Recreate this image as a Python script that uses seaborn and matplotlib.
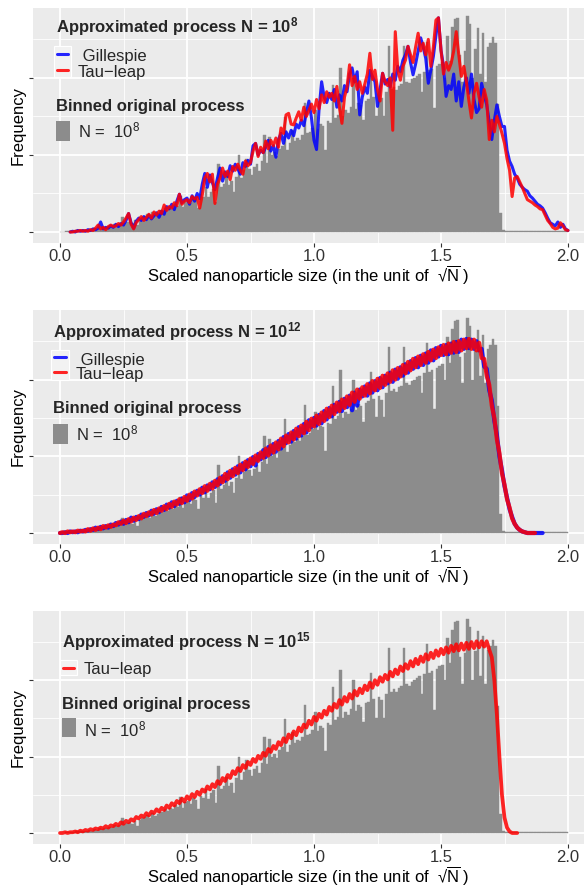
### three stacked size-distribution panels, ggplot look
import numpy as np
import pandas as pd
import matplotlib
matplotlib.use("Agg")
import matplotlib.pyplot as plt
import seaborn as sns
from matplotlib.patches import Rectangle
from matplotlib.lines import Line2D
from matplotlib.ticker import MultipleLocator, FixedLocator, FormatStrFormatter

# binned original process, N = 10^8, bins of width 0.01 starting at 0.00
orig_counts = [
    0.00, 0.00, 0.01, 0.01, 0.01, 0.01, 0.02, 0.02, 0.02, 0.03,
    0.03, 0.04, 0.03, 0.05, 0.04, 0.06, 0.05, 0.07, 0.06, 0.08,
    0.08, 0.10, 0.09, 0.11, 0.19, 0.12, 0.13, 0.15, 0.12, 0.16,
    0.09, 0.17, 0.19, 0.21, 0.23, 0.20, 0.26, 0.22, 0.25, 0.28,
    0.27, 0.31, 0.29, 0.33, 0.31, 0.36, 0.34, 0.47, 0.33, 0.40,
    0.42, 0.38, 0.46, 0.43, 0.31, 0.49, 0.46, 0.58, 0.45, 0.52,
    0.56, 0.39, 0.88, 0.58, 0.62, 0.73, 0.61, 0.66, 0.52, 0.72,
    1.00, 0.70, 0.80, 0.95, 0.82, 0.74, 0.84, 0.88, 0.79, 0.92,
    1.26, 0.90, 1.23, 1.00, 1.04, 0.98, 1.08, 1.12, 1.49, 1.06,
    1.15, 1.32, 1.18, 1.22, 1.20, 1.26, 1.67, 1.28, 1.30, 1.35,
    1.58, 1.34, 1.40, 1.38, 1.07, 1.44, 1.42, 1.91, 1.48, 1.52,
    2.13, 1.50, 1.58, 1.55, 1.62, 2.00, 1.60, 1.68, 1.65, 1.45,
    1.70, 1.72, 2.10, 1.75, 1.51, 1.78, 1.74, 1.51, 1.82, 2.42,
    1.85, 1.88, 1.84, 1.90, 1.92, 2.42, 1.95, 1.93, 1.98, 2.00,
    2.03, 2.05, 1.82, 2.08, 2.47, 2.10, 2.12, 1.61, 2.15, 2.18,
    2.20, 2.00, 2.55, 2.22, 2.66, 2.76, 2.78, 2.30, 1.95, 2.35,
    2.80, 2.70, 2.00, 2.38, 2.65, 2.05, 2.58, 1.95, 2.40, 2.45,
    2.53, 2.45, 1.66, 0.25, 0.02, 0.01,
    0.012, 0.012, 0.012, 0.012, 0.012, 0.012, 0.012, 0.012, 0.012, 0.012, 0.012, 0.012,
    0.012, 0.012, 0.012, 0.012, 0.012, 0.012, 0.012, 0.012, 0.012, 0.012, 0.012, 0.012,
]

# approximated process N = 10^8, points every 0.01 from 0.04
gill_8 = [
    0.00, 0.01, 0.00, 0.02, 0.01, 0.02,
    0.01, 0.03, 0.02, 0.04, 0.03, 0.05, 0.13, 0.04, 0.06, 0.05,
    0.08, 0.06, 0.10, 0.07, 0.11, 0.09, 0.15, 0.24, 0.12, 0.05,
    0.14, 0.18, 0.15, 0.20, 0.16, 0.22, 0.17, 0.21, 0.25, 0.19,
    0.27, 0.23, 0.33, 0.30, 0.36, 0.29, 0.40, 0.49, 0.38, 0.42,
    0.44, 0.36, 0.47, 0.40, 0.50, 0.43, 0.62, 0.76, 0.58, 0.74,
    0.64, 0.55, 0.70, 0.83, 0.66, 0.78, 0.72, 0.86, 0.79, 0.88,
    0.82, 0.75, 0.90, 0.85, 0.93, 0.88, 1.12, 1.15, 1.00, 1.06,
    1.03, 1.10, 1.19, 1.05, 1.12, 0.97, 1.20, 1.28, 1.15, 1.30,
    1.22, 1.32, 1.25, 1.40, 1.35, 1.45, 1.38, 1.55, 1.70, 1.48,
    1.19, 1.07, 1.60, 1.95, 1.75, 1.68, 1.80, 1.72, 1.85, 1.62,
    1.78, 1.70, 1.90, 1.82, 2.05, 2.13, 1.95, 2.08, 1.52, 1.75,
    1.88, 1.80, 2.10, 2.02, 1.95, 1.63, 1.85, 2.06, 1.92, 1.98,
    1.88, 2.05, 1.97, 2.15, 2.08, 2.23, 2.30, 2.41, 2.20, 2.04,
    2.18, 2.35, 2.52, 2.40, 2.25, 1.93, 2.10, 2.28, 2.55, 2.78,
    2.36, 2.15, 1.76, 1.90, 1.85, 2.05, 1.70, 1.95, 1.63, 1.88,
    2.00, 1.80, 2.05, 1.72, 1.55, 1.60, 1.93, 1.78, 1.65, 1.42,
    1.20, 1.45, 1.65, 1.50, 1.37, 1.37, 1.06, 0.92, 0.85, 0.75,
    0.70, 0.62, 0.58, 0.55, 0.53, 0.47, 0.44, 0.40, 0.36, 0.34,
    0.31, 0.25, 0.18, 0.12, 0.10, 0.08, 0.13, 0.06, 0.10, 0.04,
    0.02,
]
tau_8 = [
    0.00, 0.00, 0.01, 0.01, 0.02, 0.01,
    0.02, 0.01, 0.03, 0.02, 0.05, 0.09, 0.04, 0.06, 0.03, 0.07,
    0.09, 0.07, 0.08, 0.11, 0.09, 0.13, 0.18, 0.24, 0.10, 0.04,
    0.12, 0.16, 0.20, 0.15, 0.19, 0.23, 0.18, 0.26, 0.22, 0.27,
    0.24, 0.35, 0.28, 0.33, 0.31, 0.38, 0.34, 0.49, 0.36, 0.40,
    0.42, 0.38, 0.46, 0.43, 0.45, 0.31, 0.48, 0.70, 0.76, 0.65,
    0.75, 0.37, 0.62, 0.70, 0.83, 0.72, 0.79, 0.68, 0.85, 0.80,
    0.88, 0.80, 0.75, 0.92, 0.86, 0.90, 1.05, 1.15, 0.98, 1.10,
    1.03, 1.18, 1.08, 1.19, 1.12, 1.22, 1.10, 1.35, 1.28, 1.52,
    1.54, 1.40, 1.39, 1.48, 1.56, 1.45, 1.62, 1.50, 1.58, 1.66,
    1.55, 1.72, 1.60, 1.78, 1.68, 1.82, 1.75, 1.80, 1.70, 1.89,
    1.62, 1.41, 1.75, 1.88, 2.17, 1.90, 2.02, 1.85, 1.95, 1.80,
    1.92, 2.05, 2.32, 1.98, 2.10, 1.85, 1.70, 2.06, 1.95, 1.90,
    2.00, 1.32, 2.60, 2.10, 1.97, 2.15, 2.23, 2.41, 2.30, 2.20,
    2.40, 2.58, 2.35, 2.45, 2.30, 2.50, 2.15, 2.40, 2.75, 2.78,
    2.36, 2.05, 2.20, 2.10, 2.19, 2.35, 2.60, 2.30, 2.02, 2.15,
    1.95, 1.70, 1.48, 1.80, 1.93, 1.75, 1.62, 1.85, 1.71, 1.20,
    1.45, 1.30, 1.50, 1.40, 1.28, 1.15, 0.95, 0.80, 0.46, 0.70,
    0.72, 0.65, 0.58, 0.50, 0.42, 0.40, 0.38, 0.35, 0.33, 0.30,
    0.29, 0.22, 0.15, 0.11, 0.06, 0.04, 0.05, 0.12, 0.08, 0.03,
    0.02,
]

# approximated process N = 10^12, points every 0.01 from 0.00
gill_12 = [
    0.00, 0.00, 0.01, 0.00, 0.02, 0.01, 0.02, 0.01, 0.03, 0.02,
    0.04, 0.03, 0.05, 0.04, 0.07, 0.05, 0.08, 0.06, 0.09, 0.07,
    0.11, 0.09, 0.13, 0.11, 0.15, 0.12, 0.17, 0.14, 0.20, 0.16,
    0.21, 0.18, 0.24, 0.21, 0.26, 0.23, 0.29, 0.25, 0.31, 0.27,
    0.34, 0.30, 0.37, 0.33, 0.40, 0.35, 0.42, 0.38, 0.45, 0.40,
    0.49, 0.43, 0.52, 0.47, 0.55, 0.50, 0.59, 0.53, 0.62, 0.57,
    0.66, 0.60, 0.70, 0.64, 0.74, 0.68, 0.79, 0.72, 0.83, 0.76,
    0.87, 0.79, 0.91, 0.83, 0.95, 0.87, 0.99, 0.88, 1.03, 0.96,
    1.08, 0.99, 1.12, 1.03, 1.16, 1.06, 1.20, 1.10, 1.25, 1.17,
    1.29, 1.19, 1.33, 1.23, 1.38, 1.27, 1.42, 1.31, 1.47, 1.38,
    1.50, 1.40, 1.54, 1.43, 1.59, 1.48, 1.63, 1.52, 1.67, 1.58,
    1.71, 1.59, 1.75, 1.64, 1.79, 1.60, 1.83, 1.66, 1.87, 1.78,
    1.91, 1.79, 1.95, 1.83, 1.98, 1.86, 2.02, 1.90, 2.05, 1.95,
    2.09, 1.97, 2.13, 2.01, 2.16, 2.05, 2.20, 2.09, 2.24, 2.14,
    2.28, 2.16, 2.31, 2.19, 2.34, 2.22, 2.38, 2.25, 2.41, 2.30,
    2.44, 2.32, 2.45, 2.33, 2.47, 2.35, 2.49, 2.36, 2.52, 2.40,
    2.53, 2.41, 2.52, 2.40, 2.50, 2.38, 2.40, 2.17, 2.14, 1.86,
    1.73, 1.46, 1.28, 1.00, 0.82, 0.61, 0.46, 0.31, 0.21, 0.12,
    0.07, 0.04, 0.02, 0.01, 0.00, 0.00, 0.00, 0.00, 0.00, 0.00,
    0.00,
]
tau_12 = [
    0.00, 0.01, 0.00, 0.02, 0.01, 0.02, 0.01, 0.03, 0.02, 0.03,
    0.02, 0.05, 0.03, 0.06, 0.04, 0.07, 0.05, 0.09, 0.07, 0.10,
    0.08, 0.11, 0.10, 0.14, 0.12, 0.16, 0.13, 0.18, 0.15, 0.20,
    0.17, 0.22, 0.19, 0.25, 0.22, 0.27, 0.24, 0.30, 0.26, 0.32,
    0.29, 0.35, 0.31, 0.38, 0.34, 0.41, 0.37, 0.44, 0.39, 0.47,
    0.42, 0.50, 0.45, 0.54, 0.49, 0.57, 0.52, 0.61, 0.55, 0.64,
    0.58, 0.68, 0.62, 0.72, 0.66, 0.77, 0.70, 0.81, 0.74, 0.85,
    0.78, 0.89, 0.82, 0.93, 0.86, 0.97, 0.90, 1.01, 0.94, 1.05,
    0.98, 1.10, 1.01, 1.14, 1.05, 1.18, 1.09, 1.23, 1.13, 1.27,
    1.18, 1.31, 1.22, 1.36, 1.26, 1.40, 1.30, 1.45, 1.34, 1.49,
    1.39, 1.53, 1.42, 1.57, 1.46, 1.62, 1.51, 1.66, 1.55, 1.70,
    1.59, 1.74, 1.63, 1.78, 1.67, 1.83, 1.71, 1.87, 1.75, 1.90,
    1.79, 1.94, 1.82, 1.98, 1.86, 2.01, 1.89, 2.05, 1.93, 2.08,
    1.97, 2.12, 2.00, 2.15, 2.04, 2.19, 2.08, 2.23, 2.12, 2.27,
    2.16, 2.30, 2.19, 2.33, 2.22, 2.36, 2.25, 2.39, 2.28, 2.42,
    2.32, 2.45, 2.33, 2.47, 2.35, 2.49, 2.36, 2.50, 2.38, 2.52,
    2.41, 2.53, 2.40, 2.52, 2.38, 2.48, 2.28, 2.27, 2.05, 1.93,
    1.66, 1.50, 1.22, 1.04, 0.78, 0.63, 0.44, 0.33, 0.19, 0.12,
    0.07, 0.04, 0.02, 0.01, 0.00, 0.00, 0.00, 0.00,
]

# approximated process N = 10^15 (tau-leap only), points every 0.01 from 0.00
tau_15 = [
    0.00, 0.00, 0.01, 0.00, 0.01, 0.01, 0.02, 0.01, 0.03, 0.02,
    0.04, 0.03, 0.05, 0.04, 0.06, 0.05, 0.07, 0.06, 0.09, 0.07,
    0.10, 0.09, 0.12, 0.10, 0.14, 0.12, 0.16, 0.14, 0.18, 0.16,
    0.21, 0.19, 0.23, 0.21, 0.26, 0.23, 0.28, 0.26, 0.31, 0.28,
    0.33, 0.30, 0.36, 0.33, 0.39, 0.36, 0.42, 0.39, 0.45, 0.41,
    0.48, 0.44, 0.51, 0.47, 0.54, 0.50, 0.57, 0.54, 0.61, 0.57,
    0.64, 0.60, 0.68, 0.64, 0.72, 0.68, 0.76, 0.72, 0.81, 0.77,
    0.85, 0.81, 0.89, 0.85, 0.93, 0.89, 0.97, 0.93, 1.01, 0.97,
    1.05, 1.01, 1.10, 1.06, 1.14, 1.10, 1.19, 1.15, 1.24, 1.19,
    1.29, 1.24, 1.33, 1.28, 1.38, 1.33, 1.42, 1.38, 1.47, 1.42,
    1.52, 1.47, 1.56, 1.51, 1.60, 1.55, 1.65, 1.60, 1.69, 1.64,
    1.74, 1.68, 1.78, 1.72, 1.82, 1.76, 1.86, 1.80, 1.89, 1.83,
    1.93, 1.87, 1.97, 1.90, 2.00, 1.94, 2.04, 1.98, 2.07, 2.01,
    2.11, 2.05, 2.14, 2.08, 2.18, 2.12, 2.21, 2.15, 2.25, 2.18,
    2.28, 2.21, 2.31, 2.24, 2.34, 2.27, 2.36, 2.29, 2.39, 2.32,
    2.41, 2.34, 2.43, 2.36, 2.45, 2.38, 2.47, 2.39, 2.48, 2.40,
    2.49, 2.41, 2.50, 2.42, 2.51, 2.43, 2.51, 2.44, 2.51, 2.40,
    2.30, 2.00, 1.55, 1.00, 0.50, 0.20, 0.07, 0.02, 0.00, 0.00,
    0.00,
]

W, H = 584, 888
GRAY = "#8C8C8C"
BLUE = "#0000FF"
RED = "#FF0000"


def fx(x):
    return x / W


def fy(y):
    return 1 - y / H


def xs_from(start, vals):
    return start + 0.01 * np.arange(len(vals))


sns.set_theme(style="darkgrid", rc={"axes.facecolor": "#EBEBEB", "grid.color": "white"})
plt.rcParams["font.family"] = ["Liberation Sans", "DejaVu Sans"]
plt.rcParams["mathtext.fontset"] = "custom"
plt.rcParams["mathtext.rm"] = "Liberation Sans"
plt.rcParams["mathtext.it"] = "Liberation Sans:italic"
plt.rcParams["mathtext.bf"] = "Liberation Sans:bold"

bin_edges = [round(0.01 * i, 2) for i in range(201)]
hist_df = pd.DataFrame({"size": [e + 0.005 for e in bin_edges[:-1]], "count": orig_counts})

fig = plt.figure(figsize=(W / 100, H / 100), dpi=100)


def panel(top, bottom, base, series, lw):
    ax = fig.add_axes([fx(33), fy(bottom), fx(W - 33), (bottom - top) / H])
    sns.histplot(data=hist_df, x="size", weights="count", bins=bin_edges, color=GRAY,
                 alpha=1, edgecolor=GRAY, linewidth=0.3, ax=ax)
    for vals, start, col in series:
        sns.lineplot(x=xs_from(start, vals), y=vals, color=col, linewidth=lw,
                     alpha=0.85, estimator=None, sort=False, ax=ax)
    scale = (bottom - top) / 3.05
    ax.set_xlim((33 - 60) / 254, (W - 60) / 254)
    ax.set_ylim(-(bottom - base) / scale, (base - top) / scale)
    ax.xaxis.set_major_locator(MultipleLocator(0.5))
    ax.xaxis.set_minor_locator(MultipleLocator(0.25))
    ax.xaxis.set_major_formatter(FormatStrFormatter("%.1f"))
    ax.yaxis.set_major_locator(FixedLocator([0, 1, 2]))
    ax.yaxis.set_minor_locator(FixedLocator([0.5, 1.5, 2.5]))
    ax.set_yticklabels([])
    ax.grid(which="major", color="white", linewidth=1.3)
    ax.grid(which="minor", color="white", linewidth=0.6)
    for s in ax.spines.values():
        s.set_visible(False)
    ax.tick_params(axis="both", which="major", direction="out", length=3, width=0.8,
                   color="#333333", labelsize=12, labelcolor="#333333", pad=1.0,
                   bottom=True, left=True)
    ax.tick_params(axis="both", which="minor", length=0)
    ax.set_xlabel("Scaled nanoparticle size (in the unit of  \u221a" + r"$\overline{\mathrm{N}}$ )",
                  fontsize=12, color="black", labelpad=0)
    ax.set_ylabel("Frequency", fontsize=12, color="black", labelpad=1)
    return ax


def legend(x_title, x_k0, x_k1, title, title_base, rows, bin_base, sq_top, sq_bot, n_base, x_lab):
    fig.text(fx(x_title), fy(title_base), title, fontsize=12, fontweight="bold",
             va="baseline", ha="left")
    ytop = rows[0][2] - 7.5
    ybot = rows[-1][2] + 7.5
    fig.add_artist(Rectangle((fx(x_k0 - 2), fy(ybot)), (x_k1 - x_k0 + 4) / W, (ybot - ytop) / H,
                             transform=fig.transFigure, facecolor="#F2F2F2", edgecolor="white",
                             linewidth=0.8))
    for lab, col, yl, yb, xl in rows:
        fig.add_artist(Line2D([fx(x_k0 + 1), fx(x_k1 - 1)], [fy(yl), fy(yl)],
                              transform=fig.transFigure, color=col, linewidth=2.2, alpha=0.85))
        fig.text(fx(xl), fy(yb), lab, fontsize=12, va="baseline", ha="left")
    fig.text(fx(x_title), fy(bin_base), "Binned original process", fontsize=12,
             fontweight="bold", va="baseline", ha="left")
    fig.add_artist(Rectangle((fx(x_k0), fy(sq_bot)), (x_k1 - x_k0 + 1) / W, (sq_bot - sq_top) / H,
                             transform=fig.transFigure, facecolor=GRAY, edgecolor="none"))
    fig.text(fx(x_lab), fy(n_base), r"N =  10$^{8}$", fontsize=12, va="baseline", ha="left")


panel(8, 243, 232, [(gill_8, 0.04, BLUE), (tau_8, 0.04, RED)], 2.2)
panel(310, 544, 533, [(gill_12, 0.0, BLUE), (tau_12, 0.0, RED)], 3.0)
panel(611, 844, 833, [(tau_15, 0.0, RED)], 2.7)

legend(56, 56, 69, r"Approximated process N = 10$^{\mathbf{8}}$", 32.5,
       [(" Gillespie", BLUE, 54, 61, 78), ("Tau\u2212leap", RED, 70, 77, 78)],
       111.5, 121, 141, 137, 78)
legend(53, 53, 67, r"Approximated process N = 10$^{\mathbf{12}}$", 337,
       [(" Gillespie", BLUE, 357, 364.5, 76), ("Tau\u2212leap", RED, 372, 378.5, 76)],
       412.5, 424, 444, 440, 76)
legend(62, 62, 75, r"Approximated process N = 10$^{\mathbf{15}}$", 647,
       [("Tau\u2212leap", RED, 667.5, 673.5, 84)],
       708.5, 718, 737, 736, 84)

fig.savefig("out.png", dpi=100)
